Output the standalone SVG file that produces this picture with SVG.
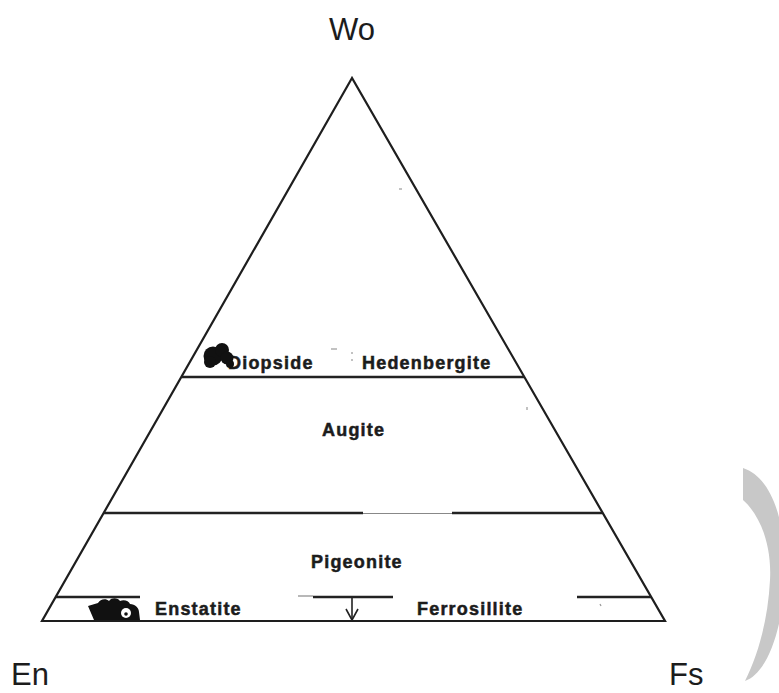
<svg xmlns="http://www.w3.org/2000/svg" width="779" height="693" viewBox="0 0 779 693">
<style>
.side{fill:none;stroke:#1e1e1e;stroke-width:2.2;stroke-linejoin:miter}
.div{stroke:#222;stroke-width:2.6;fill:none}
.thin{stroke:#888;stroke-width:1.2;fill:none}
.lab{font-family:"Liberation Sans",Arial,sans-serif;font-weight:bold;font-size:18px;letter-spacing:1.2px;fill:#1c1c1c;stroke:#1c1c1c;stroke-width:0.5}
.end{font-family:"Liberation Sans",Arial,sans-serif;font-size:31px;fill:#1c1c1c}
.blob{fill:#111}
</style>
<rect width="779" height="693" fill="#ffffff"/>
<path d="M743,468 L743,500 C760,515 772,545 770,580 C768,620 758,655 745,681 C792,665 805,488 743,468 Z" fill="#c8c8c8"/>
<g id="triangle">
<polygon class="side" points="352,78 42,621 665,621"/>
</g>
<g id="connectors">
<line class="div" x1="181.5" y1="377" x2="524" y2="377"/>
<line class="div" x1="104" y1="513" x2="363" y2="513"/>
<line class="thin" x1="363" y1="513.5" x2="452" y2="513.5"/>
<line class="div" x1="452" y1="513" x2="602.5" y2="513"/>
<line class="div" x1="56" y1="597" x2="140" y2="597"/>
<line class="thin" x1="298" y1="596" x2="313" y2="596"/>
<line class="div" x1="313" y1="597" x2="393" y2="597"/>
<line class="div" x1="577" y1="597" x2="651" y2="597"/>
<line stroke="#222" stroke-width="1.6" x1="352" y1="597" x2="352" y2="620"/>
<polyline fill="none" stroke="#222" stroke-width="1.6" points="346,609 352,620 358,609"/>
</g>
<g id="marks" stroke="#999" stroke-width="1.2">
<line x1="331" y1="349" x2="337" y2="349"/>
<line x1="352" y1="352" x2="352" y2="354"/>
<line x1="352" y1="359" x2="352" y2="361"/>
<line x1="399" y1="189" x2="402" y2="189"/>
<line x1="527" y1="407" x2="527" y2="410"/>
<line x1="600" y1="604" x2="601" y2="606"/>
</g>
<g id="labels">
<text class="lab" x="228" y="369">Diopside</text>
<text class="lab" x="362" y="369">Hedenbergite</text>
<text class="lab" x="322" y="436">Augite</text>
<text class="lab" x="311" y="568">Pigeonite</text>
<text class="lab" x="155" y="615">Enstatite</text>
<text class="lab" x="417" y="615">Ferrosillite</text>
<text class="end" x="352" y="40" text-anchor="middle">Wo</text>
<text class="end" x="11" y="685">En</text>
<text class="end" x="669" y="685">Fs</text>
</g>
<g id="blob-diopside">
<circle class="blob" cx="213" cy="356" r="9.5"/>
<circle class="blob" cx="222" cy="350" r="7"/>
<circle class="blob" cx="227" cy="358" r="6.5"/>
<circle class="blob" cx="210" cy="362" r="6"/>
<circle class="blob" cx="230" cy="364" r="4"/>
</g>
<g id="blob-enstatite">
<path class="blob" d="M88,606 L98,603 C100,599 106,598 109,601 C112,597 118,598 120,601 C124,599 129,601 130,604 C135,604 139,608 139,612 L140,620 L94,620 C92,615 90,611 88,606 Z"/>
<circle cx="126" cy="613" r="5" fill="#ffffff"/>
<circle cx="126" cy="614" r="1.8" fill="#111"/>
</g>
</svg>
